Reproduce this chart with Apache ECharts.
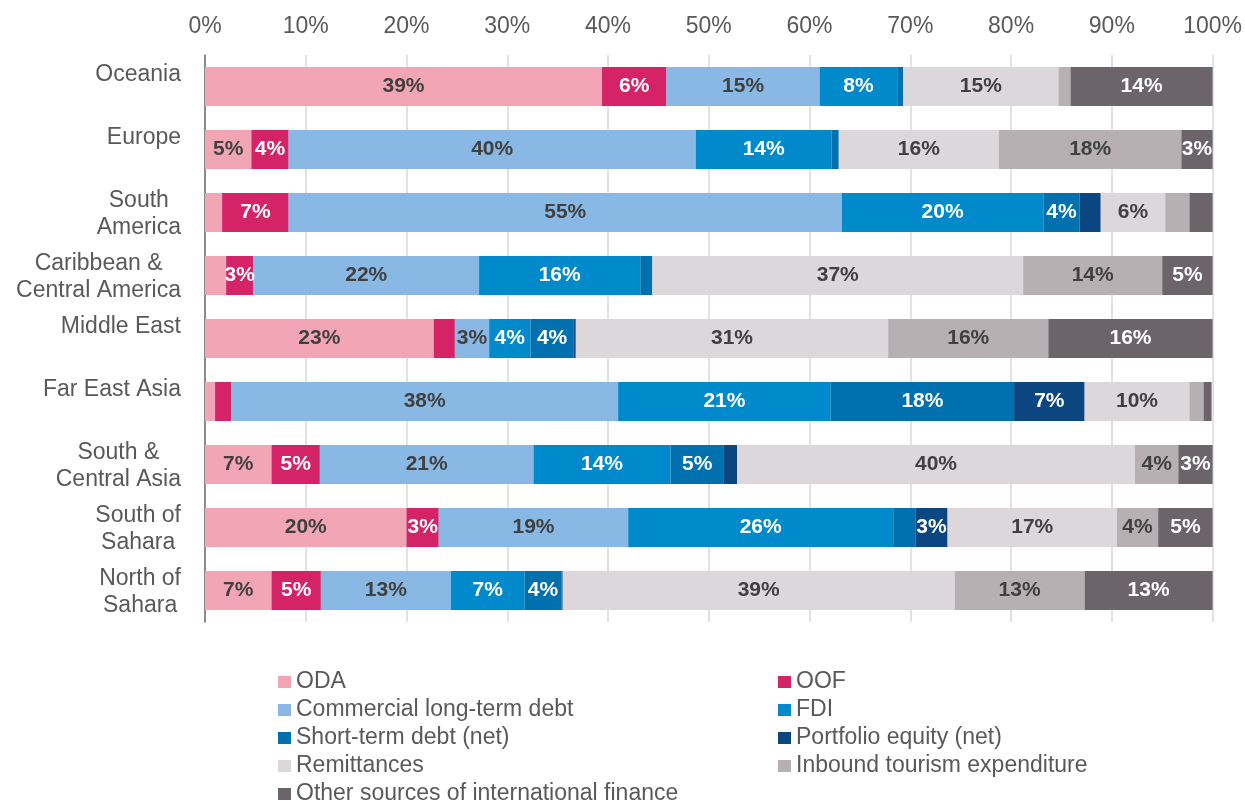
<!DOCTYPE html>
<html>
<head>
<meta charset="utf-8">
<script src="https://cdn.jsdelivr.net/npm/echarts@6/dist/echarts.min.js"></script>
<style>
  html, body { margin: 0; padding: 0; background: #fff; }
  #showChart { width: 1245px; height: 803px; }
</style>
</head>
<body>
<div id="showChart"></div>
<script>
var chartOutChar = null;

// categories, top to bottom
var categories = ['Oceania', 'Europe', 'South America', 'Caribbean & Central America', 'Middle East',
    'Far East Asia', 'South & Central Asia', 'South of Sahara', 'North of Sahara'];
var categoryLabels = ['Oceania', 'Europe', 'South\nAmerica', 'Caribbean &\nCentral America', 'Middle East',
    'Far East Asia', 'South &\nCentral Asia', 'South of\nSahara', 'North of\nSahara'];
var xTicks = [0, 10, 20, 30, 40, 50, 60, 70, 80, 90, 100];

// shares in %
var oda       = [39.4, 4.6, 1.7, 2.1, 22.7, 1.0, 6.6, 20.0, 6.6];
var oof       = [6.4, 3.7, 6.6, 2.7, 2.1, 1.6, 4.8, 3.2, 4.9];
var cltd      = [15.2, 40.4, 54.9, 22.4, 3.4, 38.4, 21.2, 18.8, 12.9];
var fdi       = [7.7, 13.5, 20.0, 16.0, 4.1, 21.1, 13.6, 26.3, 7.3];
var shortDebt = [0.6, 0.7, 3.6, 1.2, 4.3, 18.2, 5.3, 2.2, 3.7];
var portfolio = [0.0, 0.0, 2.1, 0.0, 0.2, 7.0, 1.3, 3.2, 0.1];
var remit     = [15.4, 15.9, 6.4, 36.8, 31.0, 10.4, 39.5, 16.8, 38.9];
var tourism   = [1.2, 18.1, 2.4, 13.8, 15.9, 1.4, 4.3, 4.1, 12.9];
var other     = [14.1, 3.1, 2.3, 5.0, 16.3, 0.8, 3.4, 5.4, 12.7];

var FONT = '"Liberation Sans", Arial, sans-serif';
var DARK = '#404040';
var GREY = '#595959';

function makeSeries(name, data, color, labelColor) {
    return {
        name: name,
        type: 'bar',
        stack: 'total',
        barWidth: 39,
        data: data,
        itemStyle: {color: color},
        label: {
            show: true,
            position: 'inside',
            color: labelColor,
            fontFamily: FONT,
            fontWeight: 'bold',
            fontSize: 21,
            formatter: function (p) {
                var r = Math.round(p.value);
                return r >= 3 ? r + '%' : '';
            }
        },
        emphasis: {disabled: true}
    };
}

var legendText = {color: GREY, fontSize: 23, fontFamily: FONT, lineHeight: 26};

function legendColumn(left, names) {
    return {
        orient: 'vertical',
        left: left,
        top: 664,
        height: 150,
        itemWidth: 13,
        itemHeight: 12,
        itemGap: 2,
        icon: 'rect',
        textStyle: legendText,
        data: names
    };
}

var option1 = {
    backgroundColor: '#fff',
    animation: false,
    grid: {left: 205, right: 32, top: 55, height: 567},
    legend: [
        legendColumn(273, ['ODA', 'Commercial long-term debt', 'Short-term debt (net)', 'Remittances',
            'Other sources of international finance']),
        legendColumn(773, ['OOF', 'FDI', 'Portfolio equity (net)', 'Inbound tourism expenditure'])
    ],
    xAxis: {
        type: 'value',
        position: 'top',
        min: xTicks[0],
        max: xTicks[xTicks.length - 1],
        interval: 10,
        axisLine: {show: false},
        axisTick: {show: false},
        axisLabel: {
            color: GREY,
            fontSize: 23,
            fontFamily: FONT,
            margin: 17,
            formatter: '{value}%'
        },
        splitLine: {lineStyle: {color: '#d9d9d9', width: 1.5}}
    },
    yAxis: {
        type: 'category',
        inverse: true,
        data: categories,
        axisTick: {show: false},
        axisLine: {lineStyle: {color: '#6e6e6e', width: 1.5}},
        axisLabel: {
            margin: 24,
            padding: [4, 0, 0, 0],
            formatter: function (v, i) {
                var lines = categoryLabels[i].split('\n');
                if (lines.length === 1) lines.push(' ');
                return lines.map(function (l) { return '{c|' + l + '}'; }).join('\n');
            },
            rich: {
                c: {align: 'center', color: GREY, fontSize: 23, fontFamily: FONT, lineHeight: 27}
            }
        }
    },
    series: [
        makeSeries('ODA', oda, '#F2A5B5', DARK),
        makeSeries('OOF', oof, '#D42467', '#fff'),
        makeSeries('Commercial long-term debt', cltd, '#88B8E3', DARK),
        makeSeries('FDI', fdi, '#008ACB', '#fff'),
        makeSeries('Short-term debt (net)', shortDebt, '#0070AF', '#fff'),
        makeSeries('Portfolio equity (net)', portfolio, '#0B4680', '#fff'),
        makeSeries('Remittances', remit, '#DCD7DA', DARK),
        makeSeries('Inbound tourism expenditure', tourism, '#B7B0B3', DARK),
        makeSeries('Other sources of international finance', other, '#6B6468', '#fff')
    ]
};

chartOutChar = echarts.init(document.getElementById('showChart'));
chartOutChar.setOption(option1);
</script>
</body>
</html>
